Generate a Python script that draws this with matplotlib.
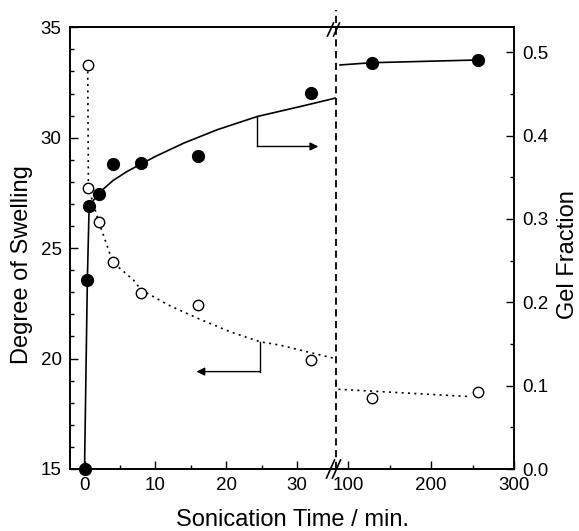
import numpy as np
import matplotlib
matplotlib.use("Agg")
import matplotlib.pyplot as plt
from matplotlib.ticker import MultipleLocator, FixedLocator, FormatStrFormatter
from matplotlib.lines import Line2D

plt.rcParams['font.family'] = ['Liberation Sans', 'DejaVu Sans']

# measured data (open = degree of swelling, filled = gel fraction)
swell_t = [0.45, 0.55, 2, 4, 8, 16, 32]
swell_v = [33.29, 27.74, 26.20, 24.36, 22.96, 22.43, 19.94]
swell_t_long = [128, 256]
swell_v_long = [18.20, 18.50]

gel_t = [0, 0.4, 0.65, 2, 4, 8, 16, 32]
gel_v = [0.0, 0.227, 0.315, 0.330, 0.366, 0.3675, 0.375, 0.451]
gel_t_long = [128, 256]
gel_v_long = [0.4875, 0.4908]

# guide curves
gel_fit_t = [0, 0.4, 0.65, 2, 4, 6, 8, 10, 14, 18.7, 24.4, 30.5, 35.4]
gel_fit_v = [0.0, 0.227, 0.315, 0.331, 0.346, 0.357, 0.366, 0.375, 0.391, 0.407, 0.423, 0.435, 0.445]
gel_fit_t_long = [90, 128, 256]
gel_fit_v_long = [0.4848, 0.4875, 0.4908]

swell_fit_t = [0.45, 0.55, 2, 4, 6.9, 8, 12, 16, 20.5, 24.8, 27.6, 31.5, 35.4]
swell_fit_v = [33.29, 27.74, 26.2, 24.36, 23.56, 23.11, 22.4, 21.82, 21.22, 20.76, 20.61, 20.3, 20.0]
swell_fit_t_long = [88, 246]
swell_fit_v_long = [18.61, 18.28]

W, H = 579, 531
fig = plt.figure(figsize=(W / 100, H / 100), dpi=100)


def fx(px):
    return px / W


def fy(py):
    return 1 - py / H


x0, xb, x1 = 70, 336, 514
ytop, ybot = 27.3, 469
ax_l = fig.add_axes([fx(x0), fy(ybot), fx(xb - x0), (ybot - ytop) / H])
ax_r = fig.add_axes([fx(xb), fy(ybot), fx(x1 - xb), (ybot - ytop) / H])
ax_lg = ax_l.twinx()
ax_rg = ax_r.twinx()

break_l = 35.5
break_r = 85.1
ax_l.set_xlim(-2.05, break_l)
ax_r.set_xlim(break_r, 300)
for a in (ax_l, ax_r):
    a.set_ylim(15, 35)
for a in (ax_lg, ax_rg):
    a.set_ylim(0, 0.530)

lw_sp = 1.4
for a in (ax_l, ax_r, ax_lg, ax_rg):
    for s in a.spines.values():
        s.set_visible(False)
        s.set_linewidth(lw_sp)
ax_l.spines['left'].set_visible(True)
ax_l.spines['top'].set_visible(True)
ax_l.spines['bottom'].set_visible(True)
ax_r.spines['top'].set_visible(True)
ax_r.spines['bottom'].set_visible(True)
ax_rg.spines['right'].set_visible(True)

tick_kw = dict(direction='in', width=1.0, labelsize=13.5)
ax_l.tick_params(axis='both', which='major', length=5.5, pad=6, **tick_kw)
ax_l.tick_params(axis='both', which='minor', length=3, **tick_kw)
ax_l.tick_params(top=False, right=False, which='both')
ax_l.yaxis.set_major_locator(MultipleLocator(5))
ax_l.yaxis.set_minor_locator(MultipleLocator(1))
ax_l.xaxis.set_major_locator(FixedLocator([0, 10, 20, 30]))
ax_l.xaxis.set_minor_locator(FixedLocator([5, 15, 25]))

ax_r.tick_params(axis='x', which='major', length=5.5, pad=6, **tick_kw)
ax_r.tick_params(axis='x', which='minor', length=3, **tick_kw)
ax_r.tick_params(axis='y', which='both', left=False, labelleft=False)
ax_r.tick_params(top=False, which='both')
ax_r.xaxis.set_major_locator(FixedLocator([100, 200, 300]))
ax_r.xaxis.set_minor_locator(FixedLocator([150, 250]))

ax_lg.tick_params(axis='y', which='both', right=False, labelright=False)
ax_rg.tick_params(axis='y', which='major', length=5.5, pad=6, **tick_kw)
ax_rg.tick_params(axis='y', which='minor', length=3, **tick_kw)
ax_rg.yaxis.set_major_locator(MultipleLocator(0.1))
ax_rg.yaxis.set_minor_locator(MultipleLocator(0.05))
ax_rg.yaxis.set_major_formatter(FormatStrFormatter('%.1f'))

# guide curves
dot = (0, (1.2, 2.6))
ax_l.plot(swell_fit_t, swell_fit_v, color='black', lw=1.2, ls=dot, zorder=2)
ax_r.plot(swell_fit_t_long, swell_fit_v_long, color='black', lw=1.2, ls=dot, zorder=2)
ax_lg.plot(gel_fit_t, gel_fit_v, color='black', lw=1.2, zorder=2)
ax_rg.plot(gel_fit_t_long, gel_fit_v_long, color='black', lw=1.2, zorder=2)

# markers
ax_l.plot(swell_t, swell_v, 'o', ms=7.5, mfc='white', mec='black', mew=1.0,
          clip_on=False, zorder=3)
ax_r.plot(swell_t_long, swell_v_long, 'o', ms=7.5, mfc='white', mec='black',
          mew=1.0, zorder=3)
ax_lg.plot(gel_t, gel_v, 'o', ms=8.5, color='black', clip_on=False, zorder=4)
ax_rg.plot(gel_t_long, gel_v_long, 'o', ms=8.5, color='black', zorder=4)

# arrows pointing to the axes
ax_lg.plot([24.4, 24.4], [0.423, 0.387], color='black', lw=1.0)
ax_lg.annotate('', xy=(33.0, 0.387), xytext=(24.4, 0.387),
               arrowprops=dict(arrowstyle='-|>', color='black', lw=1.0,
                               mutation_scale=12, shrinkA=0, shrinkB=0))
ax_l.plot([24.8, 24.8], [20.76, 19.41], color='black', lw=1.0)
ax_l.annotate('', xy=(15.8, 19.41), xytext=(24.8, 19.41),
              arrowprops=dict(arrowstyle='-|>', color='black', lw=1.0,
                              mutation_scale=12, shrinkA=0, shrinkB=0))

# dashed break line
ax_r.plot([break_r, break_r], [0, (ybot - 10) / (ybot - ytop)],
          transform=ax_r.get_xaxis_transform(), color='black', lw=1.3,
          ls=(0, (4, 2.5)), clip_on=False, zorder=5)

# break marks
for cx in (330.5, 336.5):
    fig.add_artist(Line2D([fx(cx - 3), fx(cx + 3)], [fy(36), fy(23)],
                          color='black', lw=1.2))
    fig.add_artist(Line2D([fx(cx - 4), fx(cx + 4)], [fy(478), fy(460)],
                          color='black', lw=1.2))

fig.text(fx(22), fy(265), 'Degree of Swelling', rotation=90, ha='center',
         va='center', fontsize=17)
fig.text(fx(568), fy(255), 'Gel Fraction', rotation=90, ha='center',
         va='center', fontsize=17)
fig.text(fx(292), fy(526), 'Sonication Time / min.', ha='center',
         va='baseline', fontsize=17)

fig.savefig('out.png', dpi=100)
